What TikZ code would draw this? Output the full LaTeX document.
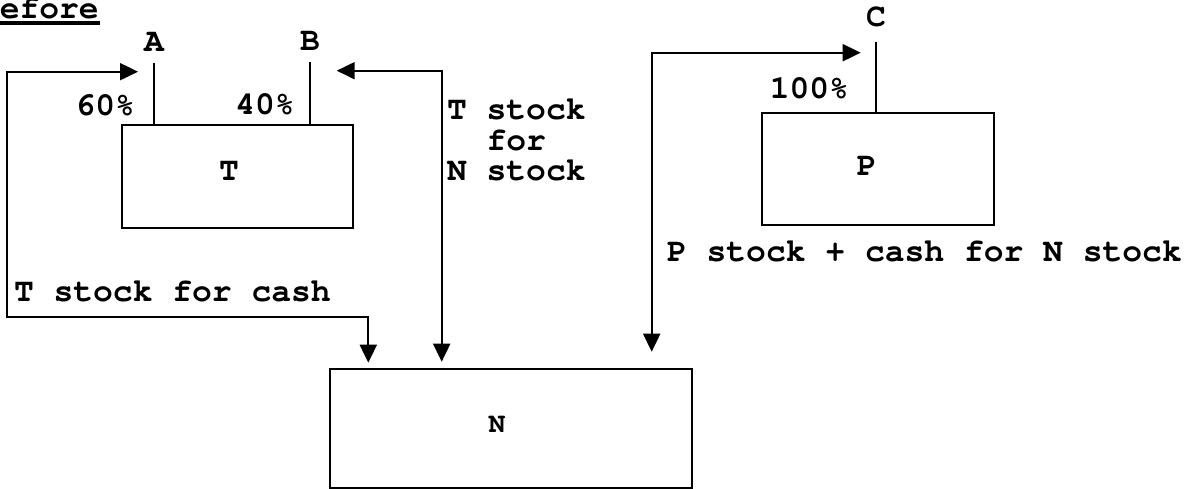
\documentclass[tikz,border=0pt]{standalone}
\usepackage[T1]{fontenc}
\usepackage{courier}
\usetikzlibrary{arrows.meta,positioning}

\begin{document}
\begin{tikzpicture}[x=0.75pt,y=-0.75pt,line width=1.5pt,
   font=\fontsize{24.75}{23}\selectfont\ttfamily\bfseries,
   box/.style={draw,inner sep=0pt},
   txt/.style={inner sep=0pt},
   dub/.style={{Triangle[length=13.5pt,width=12.75pt]}-{Triangle[length=13.5pt,width=12.75pt]}}]
  \useasboundingbox (0,0) rectangle (1189,489);
  % heading, cut at the left edge
  \node[txt,anchor=base west] (hd) at (-21,18.3) {Before};
  \draw[line width=3pt] ([yshift=-3.5pt]hd.base west) -- ([yshift=-3.5pt]hd.base east);
  % companies
  \node[box,minimum width=173.5pt,minimum height=77.5pt] (T) at (237.7,176.7) {};
  \node[txt] (tname) at (229,171.7) {T};
  \node[box,minimum width=174pt,minimum height=84.2pt] (P) at (878,168.8) {};
  \node[txt] (pname) at (866.7,166.7) {P};
  \node[box,minimum width=271.3pt,minimum height=89.5pt] (N) at (510.8,428.7) {};
  \node[txt,font=\fontsize{21}{21}\selectfont\ttfamily\bfseries] (nname) at (497,425) {N};
  % shareholders
  \coordinate (a) at (154,62.7);
  \coordinate (b) at (310,61.7);
  \coordinate (c) at (876,41.7);
  \draw (T.north -| a) -- (a);
  \draw (T.north -| b) -- (b);
  \draw (P.north -| c) -- (c);
  \node[txt,above=8pt of a] (A) {A};
  \node[txt,above=8pt of b] (B) {B};
  \node[txt,above=10pt of c] (C) {C};
  \node[txt,anchor=east] (pa) at (136,105) {60\%};
  \node[txt,anchor=east] (pb) at (295.7,104) {40\%};
  \node[txt,anchor=east] (pc) at (850,88.8) {100\%};
  % exchanges
  \coordinate (ta) at (138,71.7);
  \coordinate (tb) at (336.7,70.7);
  \coordinate (tc) at (860.7,52.7);
  \coordinate (na) at (368.3,362.7);
  \coordinate (nb) at (441.7,361.7);
  \coordinate (nc) at (651.7,351.7);
  \draw[dub] (ta) -| (7.3,316.7) -| (na);
  \draw[dub] (tb) -| (nb);
  \draw[dub] (tc) -| (nc);
  \node[txt,anchor=base west] (l1) at (13,301.7) {T stock for cash};
  \node[txt,anchor=base west,align=left] (l2) at (446,180.7) {T stock\\\ \ for\\N stock};
  \node[txt,anchor=base west] (l3) at (666,261) {P stock + cash for N stock};
\end{tikzpicture}
\end{document}
